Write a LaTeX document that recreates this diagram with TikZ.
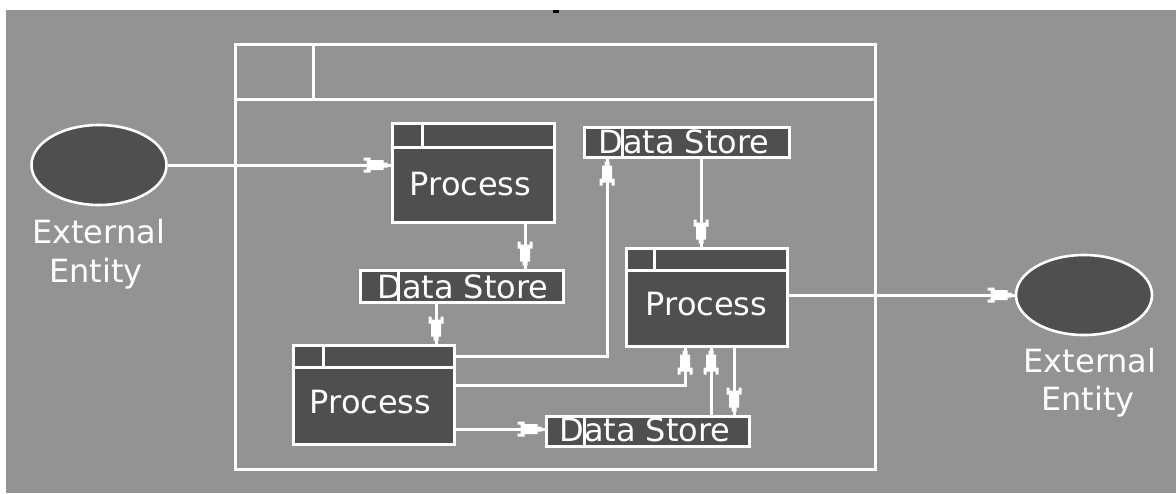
\documentclass[tikz,border=0pt]{standalone}
\usepackage{fontspec}
\setmainfont{DejaVu Sans}
\usetikzlibrary{shapes.geometric}
\definecolor{bggray}{RGB}{147,147,147}
\definecolor{boxdark}{RGB}{79,79,79}
\pgfdeclarearrow{
  name = Rocket,
  setup code = {
    \pgfarrowssettipend{0pt}
    \pgfarrowssetlineend{0pt}
    \pgfarrowssetvisualbackend{-27pt}
    \pgfarrowssetbackend{-27pt}
  },
  drawing code = {
    \pgfpathmoveto{\pgfqpoint{-3pt}{-2.5pt}}
    \pgfpathlineto{\pgfqpoint{-3pt}{2.5pt}}
    \pgfpathlineto{\pgfqpoint{-7pt}{2.5pt}}
    \pgfpathlineto{\pgfqpoint{-7pt}{5pt}}
    \pgfpathlineto{\pgfqpoint{-20pt}{5pt}}
    \pgfpathlineto{\pgfqpoint{-20pt}{7.5pt}}
    \pgfpathlineto{\pgfqpoint{-27pt}{7.5pt}}
    \pgfpathlineto{\pgfqpoint{-27pt}{4.5pt}}
    \pgfpathlineto{\pgfqpoint{-24pt}{4.5pt}}
    \pgfpathlineto{\pgfqpoint{-24pt}{-4.5pt}}
    \pgfpathlineto{\pgfqpoint{-27pt}{-4.5pt}}
    \pgfpathlineto{\pgfqpoint{-27pt}{-7.5pt}}
    \pgfpathlineto{\pgfqpoint{-20pt}{-7.5pt}}
    \pgfpathlineto{\pgfqpoint{-20pt}{-5pt}}
    \pgfpathlineto{\pgfqpoint{-7pt}{-5pt}}
    \pgfpathlineto{\pgfqpoint{-7pt}{-2.5pt}}
    \pgfpathclose
    \pgfusepathqfill
  }
}
\begin{document}
\begin{tikzpicture}[x=1pt,y=-1pt,
  wl/.style={draw=white,line width=3pt},
  box/.style={rectangle,draw=white,fill=boxdark,line width=3pt,inner sep=0pt},
  ent/.style={ellipse,draw=white,fill=boxdark,line width=2.6pt,inner sep=0pt},
  lab/.style={text=white,inner sep=0pt,anchor=base,font=\fontsize{32}{38}\selectfont},
  flow/.style={white,line width=3pt,-Rocket},
]
\useasboundingbox (0,0) rectangle (1176,493);
\fill[white] (0,0) rectangle (1176,493);
\fill[bggray] (6,10) rectangle (1176,493);
\fill[black] (553,10) rectangle (559,13);

% outer frame
\node[rectangle,draw=white,line width=3pt,minimum width=640pt,minimum height=425pt,inner sep=0pt] (frame) at (555,256.5) {};
\draw[wl] (frame.west |- 0,99) -- (frame.east |- 0,99);
\draw[wl] (313,0 |- frame.north) -- (313,99);

% external entities
\node[ent,minimum width=135pt,minimum height=80pt] (e1) at (99,165) {};
\node[ent,minimum width=136pt,minimum height=80pt] (e2) at (1084,295) {};
\node[lab] (e1a) at (98.5,243) {External};
\node[lab] (e1b) at (96,282) {Entity};
\node[lab] (e2a) at (1090,372) {External};
\node[lab] (e2b) at (1088,410) {Entity};

% processes
\node[box,minimum width=162pt,minimum height=99pt] (p1) at (473,172.5) {};
\draw[wl] (p1.west |- 0,147) -- (p1.east |- 0,147);
\draw[wl] (422,0 |- p1.north) -- (422,147);
\node[lab] (p1t) at (470.5,195) {Process};

\node[box,minimum width=161pt,minimum height=99pt] (p2) at (373.5,394.5) {};
\draw[wl] (p2.west |- 0,367) -- (p2.east |- 0,367);
\draw[wl] (323,0 |- p2.north) -- (323,367);
\node[lab] (p2t) at (370.5,413) {Process};

\node[box,minimum width=161pt,minimum height=98pt] (p3) at (706.5,297) {};
\draw[wl] (p3.west |- 0,270) -- (p3.east |- 0,270);
\draw[wl] (654,0 |- p3.north) -- (654,270);
\node[lab] (p3t) at (706.5,315) {Process};

% data stores
\node[box,minimum width=205pt,minimum height=30pt] (ds1) at (686.5,142) {};
\node[lab] (ds1t) at (684,153) {Data Store};
\draw[wl] (622,0 |- ds1.north) -- (622,0 |- ds1.south);

\node[box,minimum width=203pt,minimum height=32pt] (ds2) at (461.5,286) {};
\node[lab] (ds2t) at (463,298) {Data Store};
\draw[wl] (398,0 |- ds2.north) -- (398,0 |- ds2.south);

\node[box,minimum width=203pt,minimum height=30pt] (ds3) at (647.5,431) {};
\node[lab] (ds3t) at (645,441) {Data Store};
\draw[wl] (584,0 |- ds3.north) -- (584,0 |- ds3.south);

% flows
\draw[flow] (e1.east) -- (e1.east -| p1.west);
\draw[flow] (525,0 |- p1.south) -- (525,0 |- ds2.north);
\draw[flow] (436,0 |- ds2.south) -- (436,0 |- p2.north);
\draw[flow] (p2.east |- 0,356) -- (607,356) -- (607,0 |- ds1.south);
\draw[flow] (701,0 |- ds1.south) -- (701,0 |- p3.north);
\draw[flow] (p2.east |- 0,385) -- (685,385) -- (685,0 |- p3.south);
\draw[flow] (711,0 |- ds3.north) -- (711,0 |- p3.south);
\draw[flow] (734,0 |- p3.south) -- (734,0 |- ds3.north);
\draw[flow] (p2.east |- 0,429) -- (ds3.west |- 0,429);
\draw[flow] (p3.east |- e2.west) -- (e2.west);
\end{tikzpicture}
\end{document}
